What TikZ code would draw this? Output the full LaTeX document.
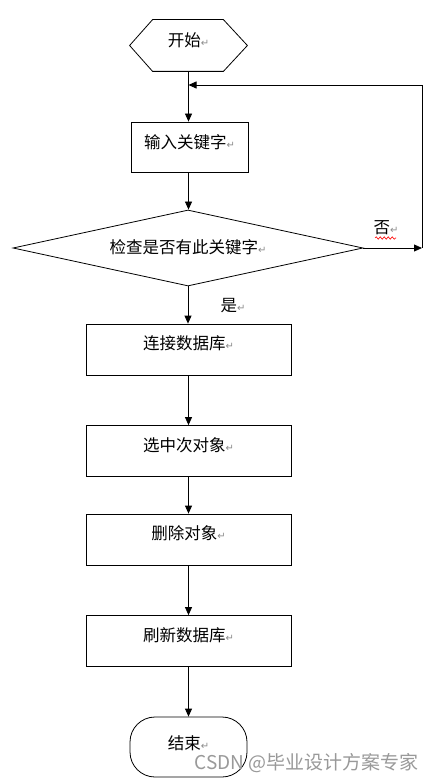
\documentclass[tikz,border=0pt]{standalone}
\usepackage{fontspec}
\setmainfont{Noto Sans CJK SC}
\newfontfamily\symfont{DejaVu Sans}
\usetikzlibrary{arrows.meta,shapes.geometric,decorations.pathmorphing}
\newcommand{\parmark}{{\symfont\fontsize{10}{10}\selectfont\color{black!45}↵}}
\begin{document}
\begin{tikzpicture}[x=1pt,y=-1pt,
  line width=0.8pt,
  box/.style={draw, minimum width=205pt, minimum height=51pt, inner sep=0pt},
  smallbox/.style={draw, minimum width=117pt, minimum height=50pt, inner sep=0pt},
  lbl/.style={font=\fontsize{16.5}{18}\selectfont, inner sep=0pt},
  arr/.style={-{Triangle[length=8pt,width=7pt]}},
  wm/.style={font=\fontsize{19}{21}\selectfont, text=black!40, inner sep=0pt}
]
\useasboundingbox[fill=white] (0,0) rectangle (435,783);

% start hexagon
\node (start) at (188.5,45.5) [minimum width=117pt, minimum height=51pt, inner sep=0pt] {};
\draw (start.west) -- ([xshift=23pt]start.north west) -- ([xshift=-24pt]start.north east)
  -- (start.east) -- ([xshift=-24pt]start.south east) -- ([xshift=23pt]start.south west) -- cycle;
\node[lbl, yshift=5pt] at (start) {开始\parmark};

% input
\node[smallbox] (input) at (189.5,147) {};
\node[lbl, yshift=5pt] at (input) {输入关键字\parmark};

% decision
\node[draw, diamond, minimum width=350pt, minimum height=76pt, aspect=4.6, inner sep=0pt] (check) at (188,248) {};
\node[lbl, yshift=1pt] at (check) {检查是否有此关键字\parmark};

% process boxes
\node[box] (b1) at (188.5,349.5) {};
\node[lbl, yshift=6.5pt] at (b1) {连接数据库\parmark};
\node[box] (b2) at (188.5,451) {};
\node[lbl, yshift=6pt] at (b2) {选中次对象\parmark};
\node[box] (b3) at (188.5,539.5) {};
\node[lbl, yshift=6.5pt] at (b3) {删除对象\parmark};
\node[box] (b4) at (188.5,641) {};
\node[lbl, yshift=6pt] at (b4) {刷新数据库\parmark};

% end
\node[draw, rounded corners=25pt, minimum width=117pt, minimum height=60pt, inner sep=0pt] (end) at (188.5,747) {};
\node[lbl, yshift=4pt] at (end) {结束\parmark};

% connectors
\draw[arr] (start.south) -- (input.north -| start.south);
\draw[arr] (input.south -| start.south) -- (start.south |- check.north);
\draw[arr] (check.south) -- (b1.north -| check.south);
\draw[arr] (b1) -- (b2);
\draw[arr] (b2) -- (b3);
\draw[arr] (b3) -- (b4);
\draw[arr] (b4) -- (end);

% loop back
\coordinate (corner) at (422,248);
\coordinate (join) at (188.5,85);
\draw[arr] (check.east) -- (corner);
\draw[arr] (corner) |- (join);

% labels
\node[lbl] (no) at (386,228) {否\parmark};
\draw[red, line width=0.6pt, decorate, decoration={snake, amplitude=1.2pt, segment length=4pt}]
  (375,238) -- (396,238);
\node[lbl] (yes) at (233,306) {是\parmark};

% watermark
\node[wm, anchor=east] (wmark) at (419,763) {CSDN @毕业设计方案专家};
\end{tikzpicture}
\end{document}
